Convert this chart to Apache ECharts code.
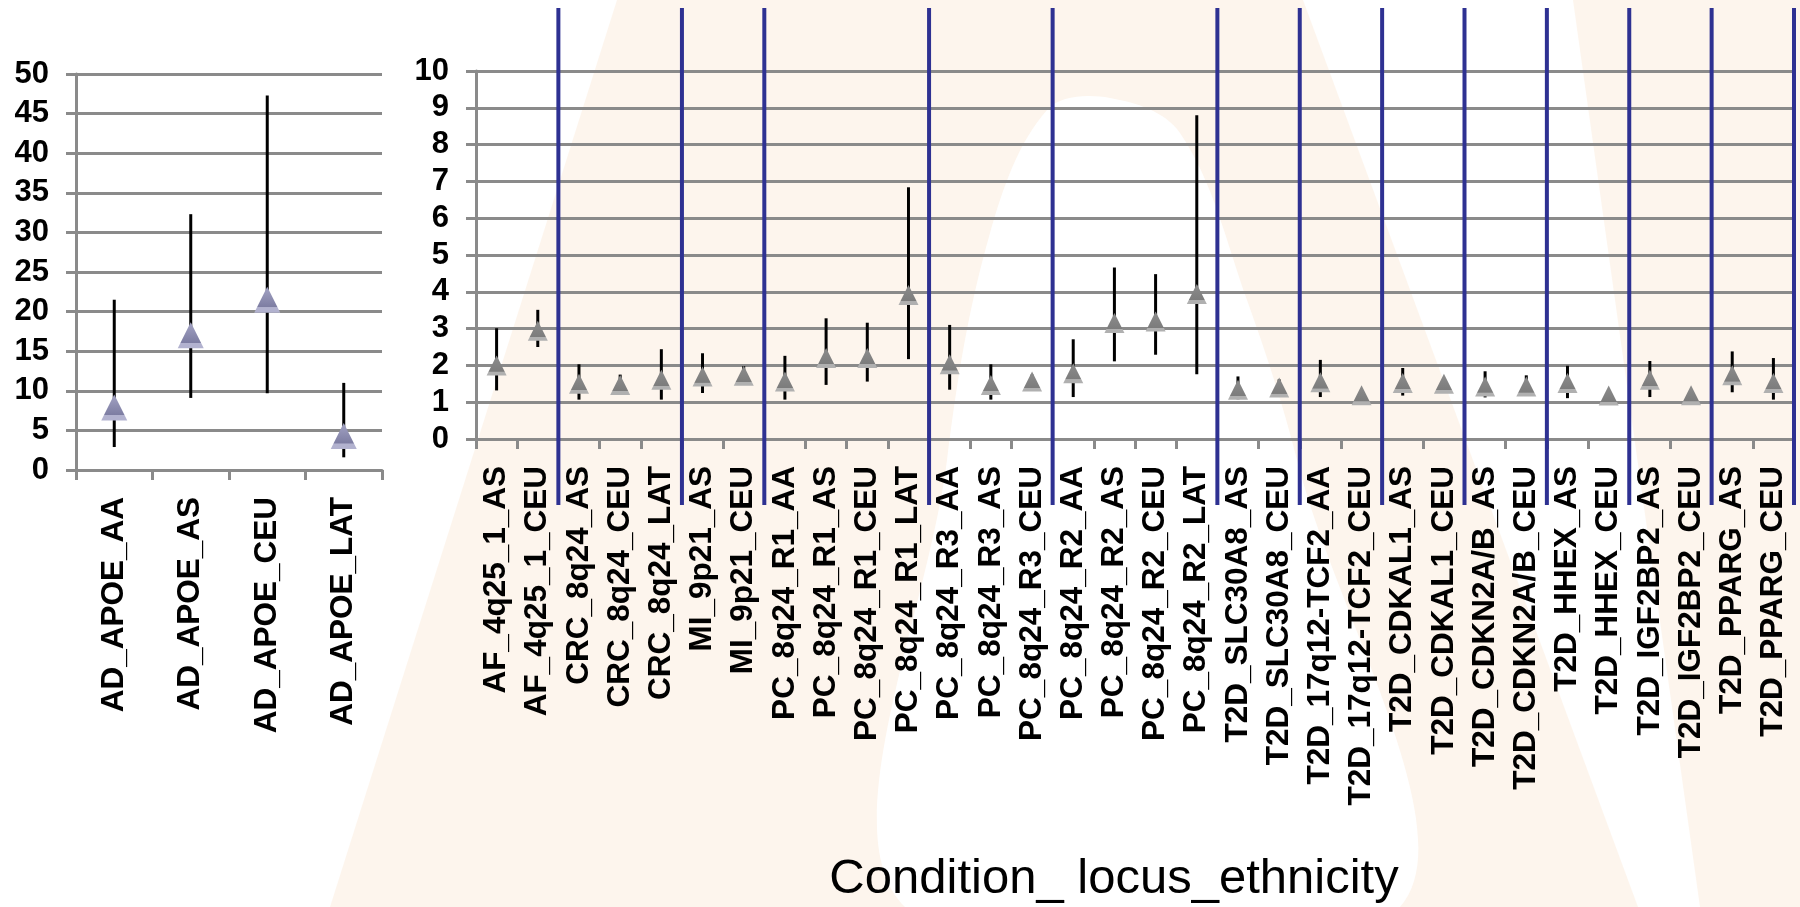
<!DOCTYPE html>
<html lang="en">
<head>
    <meta charset="UTF-8">
    <title>Odds ratios by condition, locus and ethnicity</title>
    <script type="text/javascript" src="https://cdn.jsdelivr.net/npm/echarts@6/dist/echarts.min.js"></script>
    <style>
        html, body { margin: 0; padding: 0; background: #fff; }
    </style>
</head>
<body>
<div id="main" style="width: 1800px;height:907px;"></div>
<script>

    // left panel: AD / APOE
    var apoeCats = ['AD_APOE_AA', 'AD_APOE_AS', 'AD_APOE_CEU', 'AD_APOE_LAT'];
    var apoeOR   = [7.9, 17.0, 21.5, 4.3];
    var apoeLow  = [2.9, 9.1, 9.7, 1.6];
    var apoeHigh = [21.5, 32.3, 47.3, 11.0];
    var apoeTicks = [0, 5, 10, 15, 20, 25, 30, 35, 40, 45, 50];

    // right panel: all other loci
    var lociCats = [
        'AF_4q25_1_AS', 'AF_4q25_1_CEU',
        'CRC_8q24_AS', 'CRC_8q24_CEU', 'CRC_8q24_LAT',
        'MI_9p21_AS', 'MI_9p21_CEU',
        'PC_8q24_R1_AA', 'PC_8q24_R1_AS', 'PC_8q24_R1_CEU', 'PC_8q24_R1_LAT',
        'PC_8q24_R3_AA', 'PC_8q24_R3_AS', 'PC_8q24_R3_CEU',
        'PC_8q24_R2_AA', 'PC_8q24_R2_AS', 'PC_8q24_R2_CEU', 'PC_8q24_R2_LAT',
        'T2D_SLC30A8_AS', 'T2D_SLC30A8_CEU',
        'T2D_17q12-TCF2_AA', 'T2D_17q12-TCF2_CEU',
        'T2D_CDKAL1_AS', 'T2D_CDKAL1_CEU',
        'T2D_CDKN2A/B_AS', 'T2D_CDKN2A/B_CEU',
        'T2D_HHEX_AS', 'T2D_HHEX_CEU',
        'T2D_IGF2BP2_AS', 'T2D_IGF2BP2_CEU',
        'T2D_PPARG_AS', 'T2D_PPARG_CEU'
    ];
    var lociOR = [2.0, 2.94, 1.50, 1.47, 1.61, 1.70, 1.72, 1.56, 2.20, 2.20, 3.91,
                  2.03, 1.47, 1.56, 1.79, 3.15, 3.19, 3.94, 1.34, 1.40, 1.54, 1.19,
                  1.52, 1.50, 1.43, 1.43, 1.52, 1.18, 1.61, 1.19, 1.73, 1.52];
    var lociLow = [1.32, 2.50, 1.07, 1.30, 1.07, 1.25, 1.55, 1.07, 1.47, 1.56, 2.17,
                   1.34, 1.07, 1.40, 1.14, 2.11, 2.29, 1.76, 1.08, 1.22, 1.14, 1.05,
                   1.18, 1.35, 1.13, 1.22, 1.11, 1.05, 1.14, 1.05, 1.27, 1.07];
    var lociHigh = [3.01, 3.51, 2.03, 1.75, 2.44, 2.33, 1.98, 2.26, 3.28, 3.16, 6.84,
                    3.10, 2.03, 1.75, 2.71, 4.66, 4.48, 8.80, 1.70, 1.62, 2.15, 1.33,
                    1.93, 1.65, 1.84, 1.73, 1.99, 1.32, 2.12, 1.33, 2.38, 2.20];
    var lociTicks = [0, 1, 2, 3, 4, 5, 6, 7, 8, 9, 10];

    var xTitle = 'Condition_ locus_ethnicity';

    // group boundaries (blue dividers) where the condition_locus part changes
    function groupOf(c) { return c.substring(0, c.lastIndexOf('_')); }
    var dividers = [];
    for (var i = 1; i <= lociCats.length; i++) {
        if (i === lociCats.length || groupOf(lociCats[i]) !== groupOf(lociCats[i - 1])) {
            dividers.push([i]);
        }
    }

    var font = "'Liberation Sans', Arial, sans-serif";
    var gridGrey = '#8a8a8a';

    function ciData(low, high) {
        return low.map(function (l, i) { return [i, l, high[i]]; });
    }

    function renderCI(params, api) {
        var a = api.coord([api.value(0), api.value(1)]);
        var b = api.coord([api.value(0), api.value(2)]);
        return {
            type: 'line',
            shape: {x1: a[0], y1: a[1], x2: b[0], y2: b[1]},
            style: {stroke: '#000', lineWidth: 3}
        };
    }

    function catAxis(grid, cats) {
        return {
            gridIndex: grid,
            type: 'category',
            data: cats,
            axisLine: {lineStyle: {color: gridGrey, width: 3}},
            axisTick: {show: true, length: 10, lineStyle: {color: gridGrey, width: 3}},
            axisLabel: {
                interval: 0, rotate: 90, margin: 27,
                fontSize: 31.5, fontWeight: 'bold', color: '#000', fontFamily: font
            },
            splitLine: {show: false}
        };
    }

    function valAxis(grid, ticks) {
        return {
            gridIndex: grid,
            type: 'value',
            min: ticks[0],
            max: ticks[ticks.length - 1],
            interval: ticks[1] - ticks[0],
            axisLine: {show: true, lineStyle: {color: gridGrey, width: 3}},
            axisTick: {show: true, length: 10, lineStyle: {color: gridGrey, width: 3}},
            axisLabel: {margin: 27, fontSize: 31, fontWeight: 'bold', color: '#000', fontFamily: font},
            splitLine: {show: true, lineStyle: {color: gridGrey, width: 3}}
        };
    }

    var myChart = echarts.init(document.getElementById('main'));

    var xAxes = [catAxis(0, apoeCats), catAxis(1, lociCats)];
    xAxes[1].name = xTitle;
    xAxes[1].nameLocation = 'middle';
    xAxes[1].nameGap = 416;
    xAxes[1].nameTextStyle = {fontSize: 49, color: '#000', fontFamily: font, padding: [0, 42, 0, 0]};
    // hidden helper axis so dividers can sit exactly on category boundaries
    xAxes.push({gridIndex: 1, type: 'value', min: 0, max: lociCats.length, show: false});

    var peach = '#fcebdc';

    option = {
        backgroundColor: '#fff',
        animation: false,
        graphic: [
            // faint peach slide background (arch shape)
            {type: 'polygon', z: -10, silent: true,
                shape: {points: [[330, 907], [617, 0], [1303, 0], [1638, 907]]},
                style: {fill: peach, opacity: 0.5}},
            {type: 'polygon', z: -9, silent: true,
                shape: {
                    smooth: 0.35,
                    points: [[905, 907], [947, 460], [990, 233], [1047, 110], [1110, 98],
                             [1180, 133], [1247, 300], [1297, 460], [1400, 907]]
                },
                style: {fill: '#fff'}},
            {type: 'polygon', z: -10, silent: true,
                shape: {points: [[1573, 0], [1800, 0], [1800, 907], [1700, 907]]},
                style: {fill: peach, opacity: 0.5}}
        ],
        grid: [
            {left: 76, top: 74, width: 306, height: 396},
            {left: 476, top: 71, width: 1318, height: 368}
        ],
        xAxis: xAxes,
        yAxis: [valAxis(0, apoeTicks), valAxis(1, lociTicks)],
        series: [
            {
                type: 'custom',
                xAxisIndex: 0, yAxisIndex: 0,
                renderItem: renderCI,
                data: ciData(apoeLow, apoeHigh),
                z: 3
            },
            {
                type: 'scatter',
                xAxisIndex: 0, yAxisIndex: 0,
                symbol: 'triangle',
                symbolSize: 26,
                itemStyle: {
                    opacity: 1,
                    color: new echarts.graphic.LinearGradient(0, 0, 0, 1, [
                        {offset: 0, color: '#a3a3c4'},
                        {offset: 0.78, color: '#7d7da2'},
                        {offset: 0.8, color: '#b2b2cf'},
                        {offset: 1, color: '#b2b2cf'}
                    ])
                },
                data: apoeOR,
                z: 4
            },
            {
                type: 'custom',
                xAxisIndex: 1, yAxisIndex: 1,
                renderItem: renderCI,
                data: ciData(lociLow, lociHigh),
                z: 3
            },
            {
                type: 'scatter',
                xAxisIndex: 1, yAxisIndex: 1,
                symbol: 'triangle',
                symbolSize: 20,
                itemStyle: {
                    opacity: 1,
                    color: new echarts.graphic.LinearGradient(0, 0, 0, 1, [
                        {offset: 0, color: '#8c8c8c'},
                        {offset: 0.8, color: '#7c7c7c'},
                        {offset: 0.82, color: '#b0b0b0'},
                        {offset: 1, color: '#b0b0b0'}
                    ])
                },
                data: lociOR,
                z: 4
            },
            {
                type: 'custom',
                xAxisIndex: 2, yAxisIndex: 1,
                clip: false,
                z: 10,
                renderItem: function (params, api) {
                    var top = api.coord([api.value(0), 10]);
                    var bottom = api.coord([api.value(0), 0]);
                    return {
                        type: 'line',
                        shape: {x1: top[0], y1: top[1] - 63, x2: bottom[0], y2: bottom[1] + 66},
                        style: {stroke: '#2e3192', lineWidth: 4}
                    };
                },
                data: dividers
            }
        ]
    };

    myChart.setOption(option);

</script>
</body>
</html>
